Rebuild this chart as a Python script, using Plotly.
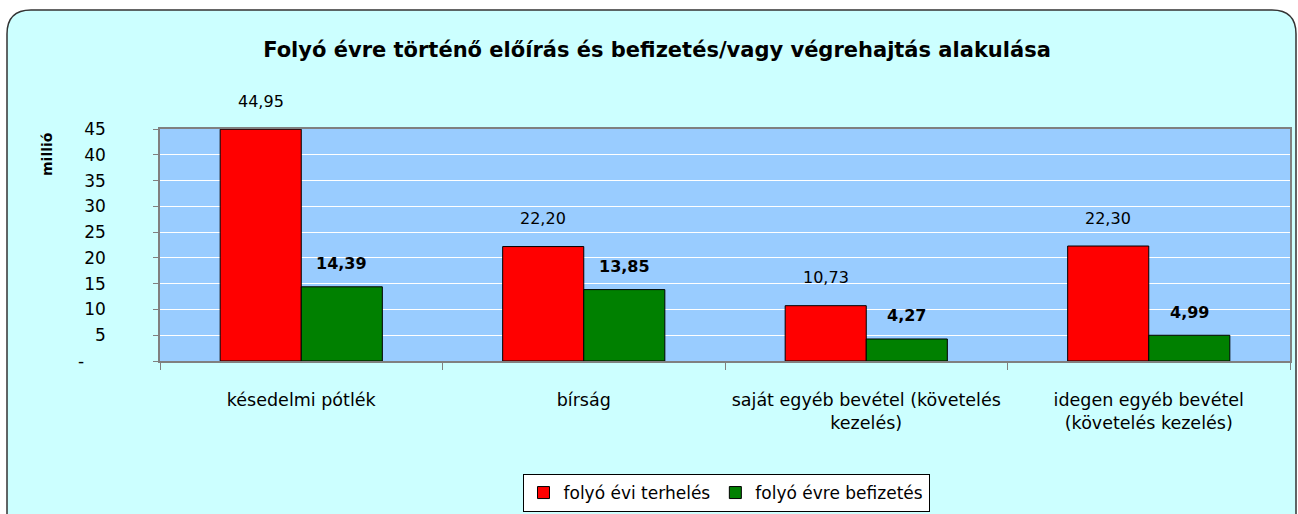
import plotly.graph_objects as go

categories = ["késedelmi pótlék", "bírság", "saját egyéb bevétel (követelés<br>kezelés)",
              "idegen egyéb bevétel<br>(követelés kezelés)"]
terheles = [44.95, 22.20, 10.73, 22.30]
befizetes = [14.39, 13.85, 4.27, 4.99]
series_names = ["folyó évi terhelés", "folyó évre befizetés"]
y_ticks = [0, 5, 10, 15, 20, 25, 30, 35, 40, 45]
y_ticktext = ["-    ", "5", "10", "15", "20", "25", "30", "35", "40", "45"]

W, H = 1298, 514
FONT = "DejaVu Sans, sans-serif"

def px(x):
    return x / W

def py(y):
    return 1 - y / H

plot_l, plot_r, plot_t, plot_b = 160, 1290, 129, 361

fig = go.Figure()
fig.add_bar(x=categories, y=terheles, name=series_names[0],
            marker=dict(color="#FF0000", line=dict(color="black", width=1)))
fig.add_bar(x=categories, y=befizetes, name=series_names[1],
            marker=dict(color="#008000", line=dict(color="black", width=1)))

def fmt(v):
    return f"{v:.2f}".replace(".", ",")

annotations = []
for c, v in zip(categories, terheles):
    annotations.append(dict(x=c, y=v, xref="x", yref="y", text=fmt(v), showarrow=False,
                            xshift=-40.5, yshift=28, font=dict(size=16, color="black", family=FONT)))
for c, v in zip(categories, befizetes):
    annotations.append(dict(x=c, y=v, xref="x", yref="y", text="<b>" + fmt(v) + "</b>", showarrow=False,
                            xshift=40.5, yshift=23, font=dict(size=16, color="black", family=FONT)))
annotations.append(dict(x=px(47), y=py(154), xref="paper", yref="paper", text="<b>millió</b>",
                        xanchor="center", yanchor="middle",
                        textangle=-90, showarrow=False, font=dict(size=14, color="black", family=FONT)))

# rounded frame
x0, x1, yt, yb, r = 7, 1296, 10, 540, 24
path = (f"M {px(x0)},{py(yb)} L {px(x0)},{py(yt + r)} Q {px(x0)},{py(yt)} {px(x0 + r)},{py(yt)} "
        f"L {px(x1 - r)},{py(yt)} Q {px(x1)},{py(yt)} {px(x1)},{py(yt + r)} L {px(x1)},{py(yb)} Z")
shapes = [
    dict(type="path", path=path, xref="paper", yref="paper", layer="below",
         fillcolor="#CCFFFF", line=dict(color="#333333", width=1.5)),
    dict(type="rect", xref="paper", yref="paper", layer="below",
         x0=px(plot_l), x1=px(plot_r), y0=py(plot_b), y1=py(plot_t),
         fillcolor="#99CCFF", line=dict(width=0)),
]

fig.update_layout(
    width=W, height=H,
    autosize=False,
    margin=dict(l=0, r=0, t=0, b=0, pad=0, autoexpand=False),
    paper_bgcolor="white",
    plot_bgcolor="rgba(0,0,0,0)",
    barmode="group", bargap=0.426, bargroupgap=0,
    font=dict(family=FONT, size=16, color="black"),
    title=dict(text="<b>Folyó évre történő előírás és befizetés/vagy végrehajtás alakulása</b>",
               x=px(657), xanchor="center", y=py(50), yanchor="middle",
               font=dict(size=21, family=FONT, color="black")),
    xaxis=dict(domain=[px(plot_l), px(plot_r)], showline=True, linecolor="#808080", linewidth=1.5,
               mirror=True, ticks="outside", tickson="boundaries", ticklen=7, tickcolor="#808080",
               showgrid=False, ticklabelstandoff=22, tickfont=dict(size=17.5, family=FONT),
               automargin=False),
    yaxis=dict(domain=[py(plot_b), py(plot_t)], range=[0, 45], tickvals=y_ticks, ticktext=y_ticktext,
               showline=True, linecolor="#808080", linewidth=1.5, mirror=True,
               ticks="outside", ticklen=5, tickcolor="#808080", showgrid=True, gridcolor="white",
               gridwidth=1, zeroline=False, ticklabelstandoff=44, tickfont=dict(size=17, family=FONT),
               automargin=False),
    legend=dict(orientation="h", x=px(726), xanchor="center", y=py(493), yanchor="middle",
                bgcolor="white", bordercolor="black", borderwidth=1,
                font=dict(size=17, family=FONT), itemwidth=30, traceorder="normal"),
    annotations=annotations,
    shapes=shapes,
    showlegend=True,
)

fig.write_html("out.html", config={"displayModeBar": False},
               post_script="document.body.style.margin='0';document.body.style.overflow='hidden';")
